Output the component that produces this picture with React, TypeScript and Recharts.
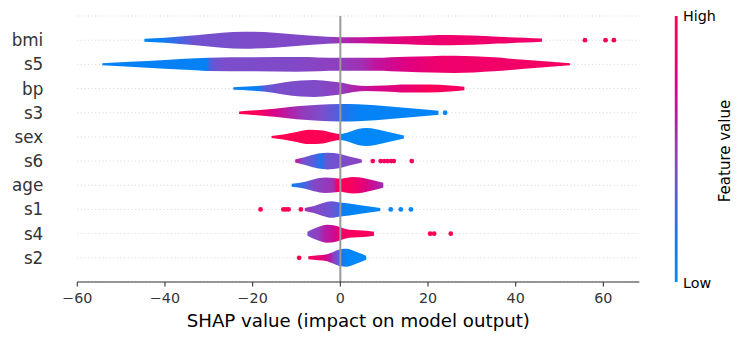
import React from 'react';
import { ComposedChart, Area, Scatter, XAxis, YAxis, ReferenceLine, CartesianGrid } from 'recharts';

const FONT = '"DejaVu Sans", sans-serif';

// features top to bottom
const features = ['bmi', 's5', 'bp', 's3', 'sex', 's6', 'age', 's1', 's4', 's2'];
const xTicks = [-60, -40, -20, 0, 20, 40, 60];

// violin profiles: [shap value, density]
const bmiShape = [[-44.7, 1.5], [-40, 2.5], [-33, 5], [-27, 7.5], [-22, 8.5], [-15, 7.5], [-8, 5], [-3, 3.5], [0, 3], [5, 3], [10, 3.5], [15, 4], [20, 4.8], [25, 5.1], [30, 4.6], [36, 3.4], [42, 2.4], [46, 1.6]];
const s5Shape = [[-54.3, 1], [-48, 2.5], [-40, 4.3], [-33, 6], [-30, 6.7], [-20, 7], [-10, 7.3], [0, 6.5], [8, 6.5], [15, 7.5], [26, 8.7], [35, 7], [42, 4.5], [48, 2.5], [52.4, 1]];
const bpShape = [[-24.4, 1.3], [-20, 2.2], [-17, 3.3], [-13, 6], [-9, 8], [-6, 8.5], [-2, 7], [0, 6], [3, 3.5], [6, 2.5], [10, 3], [15, 4], [20, 4], [25, 3], [28.3, 1.8]];
const s3Shape = [[-23.1, 1.3], [-19, 2.5], [-15, 4], [-10, 6.5], [-5, 8], [0, 8.7], [4, 8.5], [8, 7.5], [12, 6], [16, 4.5], [20, 3], [22.4, 2]];
const sexShape = [[-15.7, 1], [-13, 2.5], [-10, 5], [-7, 7.2], [-4, 6.5], [-1.5, 4], [0, 3], [2, 5], [4, 8], [6, 9], [8, 8], [11, 5], [13, 3], [14.5, 1.5]];
const s6Shape = [[-10.3, 1.5], [-8, 4], [-5, 7.5], [-3, 8.3], [0, 7], [2, 4.5], [4, 2.5], [4.9, 1.5]];
const ageShape = [[-11.1, 1.5], [-8, 3.5], [-6, 6], [-3.5, 7.7], [-1, 7], [0, 6.5], [1.5, 7.5], [3, 8.3], [5, 7.5], [7.5, 5], [9.8, 2.5]];
const s1Shape = [[-8.1, 1.5], [-6, 3.5], [-4, 6.5], [-2, 8.3], [0, 7], [2, 6], [5, 4], [7.5, 2.5], [9.1, 1.5]];
const s4Shape = [[-7.5, 2], [-5.5, 6], [-3, 9], [-1, 8], [0, 6.5], [2, 4], [4, 3.5], [6, 3], [7.7, 2]];
const s2Shape = [[-7.3, 1.5], [-5, 2.5], [-3, 3.5], [-1.5, 6], [0, 8.5], [1.5, 9], [3, 7], [4.5, 4.5], [5.9, 2]];

// feature-value level along each violin: [shap value, level 0..1]
const bmiColor = [[-44.7, 0.08], [-41, 0.12], [-37, 0.28], [-33, 0.4], [-20, 0.43], [-3, 0.46], [0, 0.55], [3, 0.6], [8, 0.7], [15, 0.8], [25, 0.85], [46, 0.87]];
const s5Color = [[-54.3, 0.1], [-30.5, 0.12], [-29.5, 0.35], [-27, 0.42], [-10, 0.45], [0, 0.5], [5, 0.55], [8, 0.62], [15, 0.75], [22, 0.85], [52.4, 0.9]];
const bpColor = [[-24.4, 0.1], [-19, 0.12], [-17, 0.35], [-14, 0.42], [-5, 0.44], [0, 0.5], [4, 0.6], [8, 0.7], [14, 0.8], [20, 0.95], [28.3, 0.9]];
const s3Color = [[-23.1, 1], [-19, 0.95], [-15, 0.72], [-12, 0.6], [-8, 0.5], [-4, 0.42], [-1, 0.33], [1, 0.2], [5, 0.1], [22.4, 0.08]];
const sexColor = [[-15.7, 1], [-0.5, 0.98], [0.5, 0.05], [14.5, 0.02]];
const s6Color = [[-10.3, 0.65], [-8.5, 0.42], [-6, 0.32], [-4.5, 0.2], [-3, 0.38], [0, 0.42], [4.9, 0.48]];
const ageColor = [[-11.1, 0.12], [-8, 0.3], [-6, 0.45], [-4, 0.5], [-1.5, 0.55], [-0.8, 0.88], [2, 0.95], [5, 0.8], [8, 0.62], [9.8, 0.55]];
const s1Color = [[-8.1, 0.55], [-6, 0.45], [-4, 0.42], [-2, 0.38], [-0.5, 0.3], [1, 0.12], [9.1, 0.05]];
const s4Color = [[-7.5, 0.42], [-5, 0.5], [-3.5, 0.6], [-2, 0.65], [-0.5, 0.78], [1, 0.88], [3, 0.95], [7.7, 0.92]];
const s2Color = [[-7.3, 0.95], [-4, 0.8], [-2.5, 0.62], [-1.5, 0.48], [-0.5, 0.35], [1, 0.12], [2, 0.05], [5.9, 0.05]];

// outlier points: [shap value, level]
const bmiDots = [[55.8, 1], [60.5, 1], [62.4, 1]];
const s3Dots = [[23.9, 0.05]];
const s6Dots = [[7.4, 0.92], [9.2, 0.92], [10, 0.92], [10.8, 0.92], [11.6, 0.92], [12.2, 0.92], [16.3, 0.95]];
const s1Dots = [[-18.2, 1], [-13, 1], [-12.4, 1], [-11.8, 1], [-9, 1], [11.5, 0.05], [13.8, 0.05], [16.1, 0.05]];
const s4Dots = [[20.5, 1], [21.4, 1], [25.2, 1]];
const s2Dots = [[-9.4, 1]];

const shapes: Record<string, number[][]> = { bmi: bmiShape, s5: s5Shape, bp: bpShape, s3: s3Shape, sex: sexShape, s6: s6Shape, age: ageShape, s1: s1Shape, s4: s4Shape, s2: s2Shape };
const colors: Record<string, number[][]> = { bmi: bmiColor, s5: s5Color, bp: bpColor, s3: s3Color, sex: sexColor, s6: s6Color, age: ageColor, s1: s1Color, s4: s4Color, s2: s2Color };
const dots: Record<string, number[][]> = { bmi: bmiDots, s3: s3Dots, s6: s6Dots, s1: s1Dots, s4: s4Dots, s2: s2Dots };

const cmapStops: [number, [number, number, number]][] = [
  [0, [0, 139, 251]],
  [0.15, [8, 126, 244]],
  [0.3, [74, 98, 224]],
  [0.42, [122, 78, 204]],
  [0.52, [150, 58, 186]],
  [0.62, [190, 20, 158]],
  [0.75, [222, 0, 130]],
  [0.87, [242, 0, 104]],
  [1, [255, 0, 82]],
];

function cmap(t: number): string {
  const v = Math.max(0, Math.min(1, t));
  for (let i = 1; i < cmapStops.length; i++) {
    const [t1, c1] = cmapStops[i];
    const [t0, c0] = cmapStops[i - 1];
    if (v <= t1) {
      const f = (v - t0) / (t1 - t0);
      const c = c0.map((a, k) => Math.round(a + (c1[k] - a) * f));
      return `rgb(${c[0]},${c[1]},${c[2]})`;
    }
  }
  return 'rgb(255,0,82)';
}

const WIDTH_SCALE = 1 / 24.18;
const nRows = features.length;

const rows = features.map((name, i) => {
  const row = nRows - 1 - i;
  const shape = shapes[name];
  const data = shape.map(([x, d]) => ({ x, r: [row - d * WIDTH_SCALE, row + d * WIDTH_SCALE] }));
  const xmin = shape[0][0];
  const xmax = shape[shape.length - 1][0];
  const stops = colors[name].map(([x, lv]) => ({ offset: (x - xmin) / (xmax - xmin), color: cmap(lv) }));
  return { name, row, data, stops };
});

const dotData = features.flatMap((name, i) =>
  (dots[name] || []).map(([x, lv]) => ({ x, y: nRows - 1 - i, fill: cmap(lv) }))
);

const fmt = (v: number) => (v < 0 ? `\u2212${Math.abs(v)}` : `${v}`);

const DotShape = (props: any) => {
  const { cx, cy, payload } = props;
  if (cx == null || cy == null) return null;
  return <circle cx={cx} cy={cy} r={2.4} fill={payload.fill} />;
};

export default function App() {
  return (
    <div style={{ position: 'absolute', left: 0, top: 0, width: 745, height: 340, background: '#fff' }}>
      <ComposedChart
        width={745}
        height={340}
        margin={{ top: 16, right: 105.7, bottom: 0, left: 0 }}
        style={{ fontFamily: FONT }}
      >
        <defs>
          {rows.map((r) => (
            <linearGradient key={r.name} id={`g-${r.name}`} x1="0" y1="0" x2="1" y2="0">
              {r.stops.map((s, k) => (
                <stop key={k} offset={s.offset} stopColor={s.color} />
              ))}
            </linearGradient>
          ))}
        </defs>
        <CartesianGrid vertical={false} stroke="#d0d0d0" strokeWidth={0.9} strokeDasharray="1 2.6" />
        <XAxis
          dataKey="x"
          type="number"
          domain={[-60, 68.2]}
          allowDataOverflow
          ticks={xTicks}
          interval={0}
          tickFormatter={fmt}
          height={58}
          tickSize={4.5}
          tickMargin={6.3}
          stroke="#333333"
          tick={{ fill: '#333333', fontSize: 14.3, fontFamily: FONT }}
          axisLine={{ stroke: '#333333', strokeWidth: 1.1 }}
          tickLine={{ stroke: '#333333', strokeWidth: 1.1 }}
          label={{ value: 'SHAP value (impact on model output)', position: 'insideBottom', offset: 13.3, fill: '#000', fontSize: 18.2, fontFamily: FONT }}
        />
        <YAxis
          dataKey="y"
          type="number"
          domain={[-1, nRows]}
          allowDataOverflow
          ticks={features.map((_, i) => nRows - 1 - i)}
          interval={0}
          tickFormatter={(v: number) => features[nRows - 1 - v]}
          width={77.3}
          axisLine={false}
          tickLine={false}
          tickSize={0}
          tickMargin={34}
          tick={{ fill: '#333333', fontSize: 16.8, fontFamily: FONT }}
        />
        {rows.map((r) => (
          <Area
            key={r.name}
            data={r.data}
            dataKey="r"
            type="monotone"
            stroke="none"
            fill={`url(#g-${r.name})`}
            fillOpacity={1}
            dot={false}
            activeDot={false}
            isAnimationActive={false}
          />
        ))}
        <Scatter data={dotData} dataKey="y" shape={DotShape} isAnimationActive={false} />
        <ReferenceLine x={0} stroke="#999999" strokeWidth={2} />
      </ComposedChart>
      <svg width={745} height={340} style={{ position: 'absolute', left: 0, top: 0, pointerEvents: 'none' }}>
        <defs>
          <linearGradient id="cbar" x1="0" y1="1" x2="0" y2="0">
            {cmapStops.map(([t], k) => (
              <stop key={k} offset={t} stopColor={cmap(t)} />
            ))}
          </linearGradient>
        </defs>
        <rect x={674.8} y={16} width={2.8} height={266} fill="url(#cbar)" />
        <text x={683} y={16} dy="0.36em" fontSize={14.3} fontFamily={FONT} fill="#000">High</text>
        <text x={683} y={283} dy="0.36em" fontSize={14.3} fontFamily={FONT} fill="#000">Low</text>
        <text
          x={725}
          y={151}
          transform="rotate(-90 725 151)"
          textAnchor="middle"
          dy="0.36em"
          fontSize={15}
          fontFamily={FONT}
          fill="#000"
        >
          Feature value
        </text>
      </svg>
    </div>
  );
}
